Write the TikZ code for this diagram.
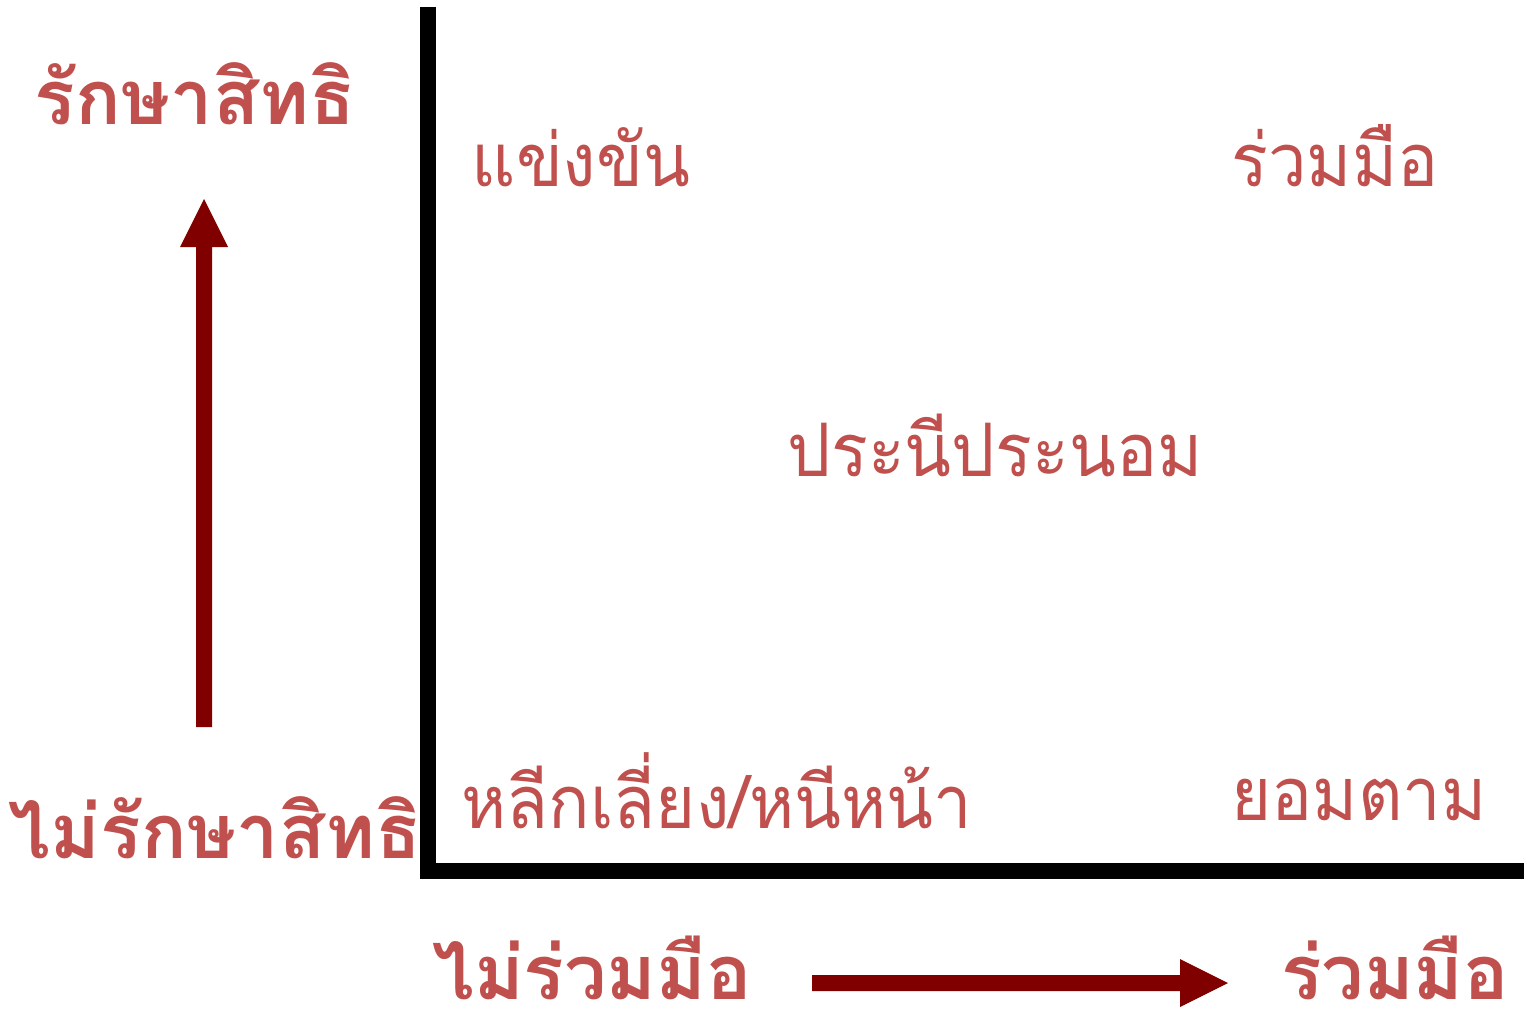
\documentclass[tikz,border=0pt]{standalone}
\usepackage{fontspec}
\newfontfamily\thaifont[Script=Thai]{Loma}
\newfontfamily\thainarrow[Script=Thai,FakeStretch=0.93]{Loma}
\definecolor{txtred}{HTML}{C0504D}
\definecolor{arrred}{HTML}{800000}
\begin{document}
\begin{tikzpicture}[x=0.02cm,y=-0.02cm,
  lbl/.style={text=txtred,font=\thainarrow\fontsize{42}{50}\selectfont,anchor=base,inner sep=0pt},
  blbl/.style={lbl,font=\thaifont\bfseries\fontsize{43}{50}\selectfont},
  axis/.style={line width=0.32cm,draw=black},
  bigarrow/.style={fill=arrred,draw=none}]
\useasboundingbox (0,0) rectangle (1524,1010);
% axes
\coordinate (top) at (428,7);
\coordinate (corner) at (428,871);
\coordinate (right) at (1524,871);
\draw[axis] (top) -- (428,879);
\draw[axis] (corner) -- (right);
% vertical arrow
\fill[bigarrow] (196,727) -- (196,247) -- (180,247) -- (204,199) -- (228,247) -- (212,247) -- (212,727) -- cycle;
% horizontal arrow
\fill[bigarrow] (812,975) -- (1180,975) -- (1180,959) -- (1228,983) -- (1180,1007) -- (1180,991) -- (812,991) -- cycle;
% labels
\node[blbl] (yup) at (195,125) {รักษาสิทธิ};
\node[blbl] (ydown) at (215,858) {ไม่รักษาสิทธิ};
\node[blbl,text depth=0pt] (xleft) at (592,999) {ไม่ร่วมมือ};
\node[blbl,text depth=0pt] (xright) at (1395,999) {ร่วมมือ};
\node[lbl] (compete) at (581,187) {แข่งขัน};
\node[lbl] (collab) at (1335,187) {ร่วมมือ};
\node[lbl] (compro) at (995,476) {ประนีประนอม};
\node[lbl] (avoid) at (717,828) {หลีกเลี่ยง/หนีหน้า};
\node[lbl] (accom) at (1359,820) {ยอมตาม};
\end{tikzpicture}
\end{document}
